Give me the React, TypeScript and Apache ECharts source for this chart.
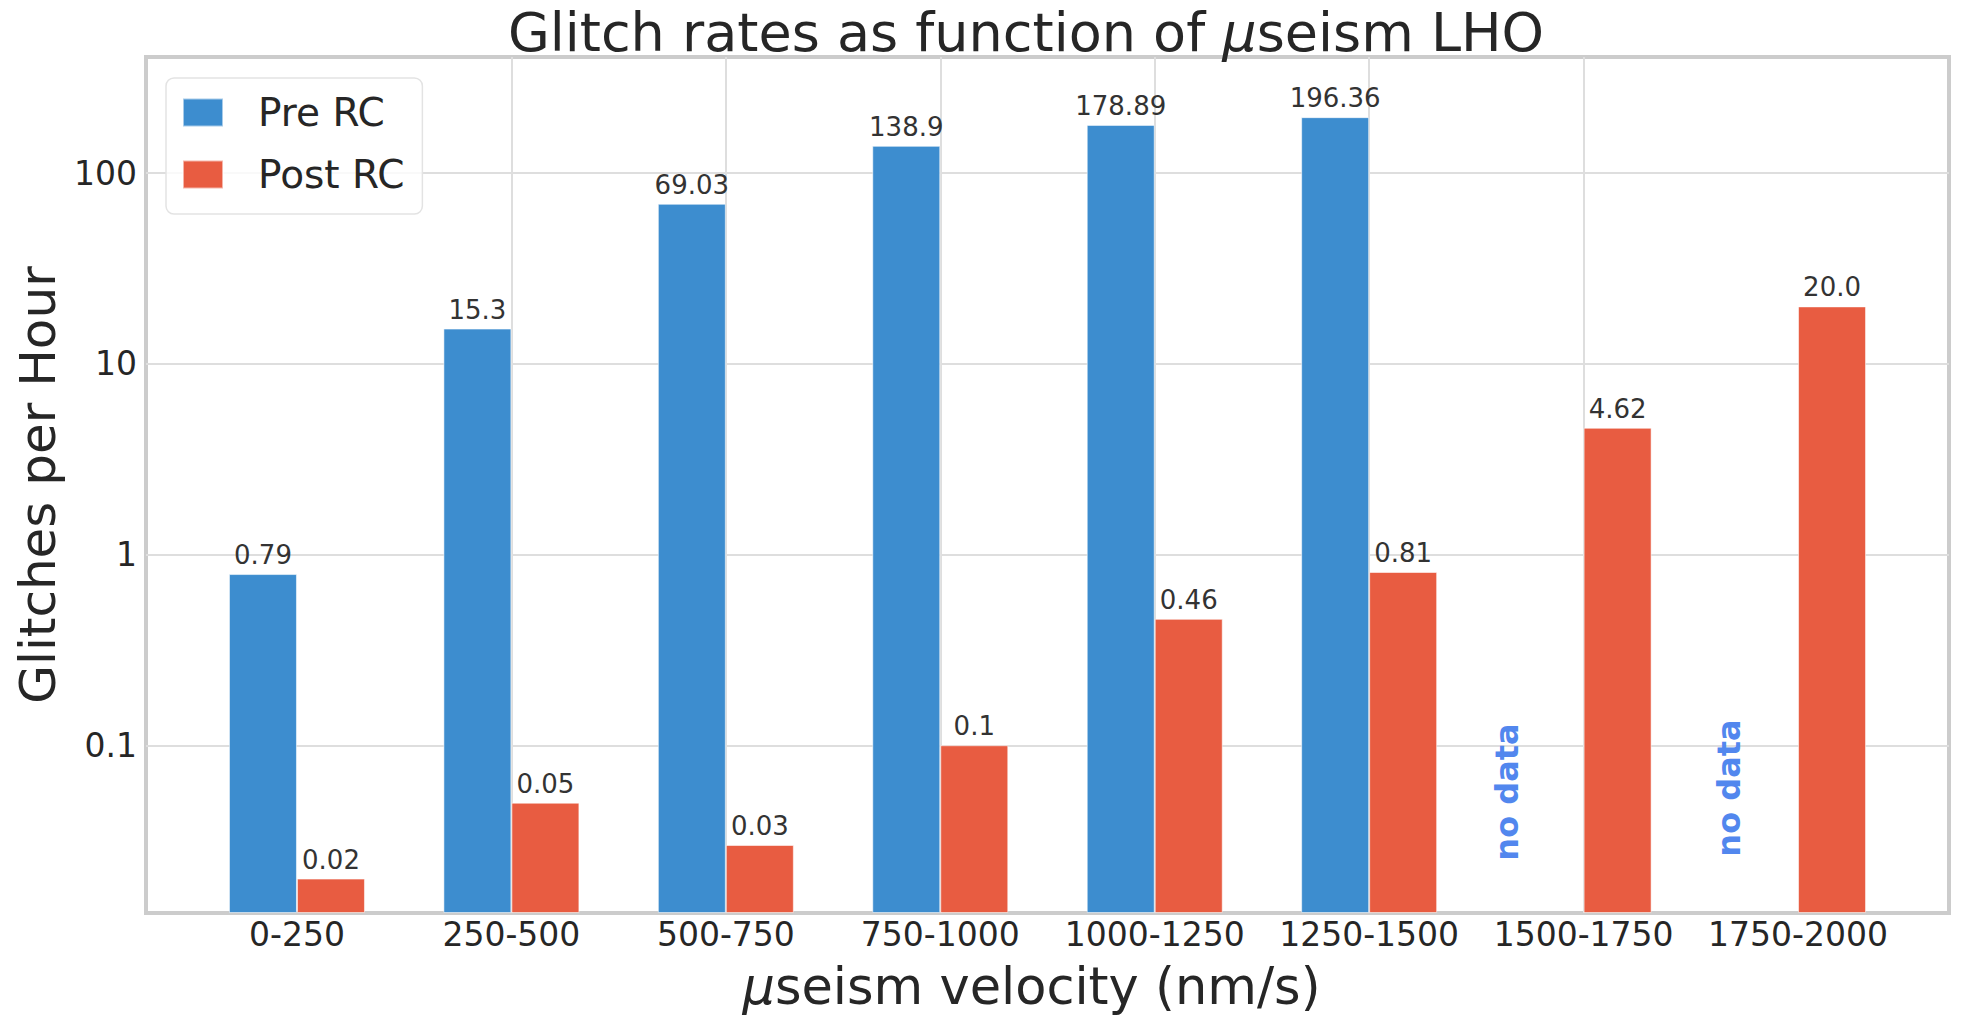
import { useEffect, useRef } from 'react';
import * as echarts from 'echarts';

const categories = ['0-250', '250-500', '500-750', '750-1000', '1000-1250', '1250-1500', '1500-1750', '1750-2000'];
const preRC: (number | null)[] = [0.79, 15.3, 69.03, 138.9, 178.89, 196.36, null, null];
const postRC: (number | null)[] = [0.02, 0.05, 0.03, 0.1, 0.46, 0.81, 4.62, 20.0];
const categoryIndex = categories.map((_, i) => i);
const noDataNotes = ['no data', 'no data'];

const FONT = 'DejaVu Sans';
const BLUE = '#3d8dcf';
const RED = '#e85c41';
const TEXT = '#262626';
const GRID = '#dedede';

const fmtValue = (v: number) => (Number.isInteger(v) ? v.toFixed(1) : String(v));
const toPairs = (arr: (number | null)[]) =>
  arr.map((v, i) => (v == null ? null : [i, v])).filter((d) => d !== null);

export default function App() {
  const ref = useRef<HTMLDivElement>(null);
  useEffect(() => {
    document.body.style.margin = '0';
    const chart = echarts.init(ref.current!, null, { renderer: 'svg' });
    const labelCfg = {
      show: true,
      position: 'top',
      distance: 6,
      fontFamily: FONT,
      fontSize: 26,
      color: '#333333',
      formatter: (p: any) => fmtValue(p.value[1]),
    };
    chart.setOption({
      animation: false,
      backgroundColor: '#ffffff',
      textStyle: { fontFamily: FONT },
      title: {
        text: 'Glitch rates as function of {i|μ}seism LHO',
        left: 1026,
        top: 5,
        textAlign: 'center',
        padding: 0,
        textStyle: {
          fontFamily: FONT,
          fontSize: 54,
          fontWeight: 'normal',
          color: TEXT,
          rich: { i: { fontFamily: FONT, fontSize: 54, fontStyle: 'italic', color: TEXT } },
        },
      },
      legend: {
        left: 166,
        top: 78,
        orient: 'vertical',
        data: ['Pre RC', 'Post RC'],
        icon: 'rect',
        itemWidth: 40,
        itemHeight: 28,
        itemGap: 23,
        padding: [15, 18, 20, 16],
        backgroundColor: 'rgba(255,255,255,0.8)',
        borderColor: '#e3e3e3',
        borderWidth: 1.5,
        borderRadius: 8,
        textStyle: { fontFamily: FONT, fontSize: 39, color: TEXT, padding: [0, 0, 0, 30] },
      },
      grid: { left: 146, right: 31, top: 57, bottom: 107, show: true, borderColor: '#cccccc', borderWidth: 4, backgroundColor: '#ffffff', outerBoundsMode: 'none', containLabel: false },
      xAxis: {
        type: 'value',
        min: -0.704,
        max: 7.704,
        axisLine: { show: false },
        axisTick: { show: false, customValues: categoryIndex },
        axisLabel: {
          customValues: categoryIndex,
          formatter: (v: number) => categories[Math.round(v)] ?? '',
          fontFamily: FONT,
          fontSize: 33,
          color: TEXT,
          margin: 5,
          showMinLabel: true,
          showMaxLabel: true,
        },
        splitLine: { show: true, showMinLine: false, showMaxLine: false, lineStyle: { color: GRID, width: 2 } },
        name: '{i|μ}seism velocity (nm/s)',
        nameLocation: 'middle',
        nameGap: 48,
        nameTextStyle: {
          fontFamily: FONT,
          fontSize: 51,
          color: TEXT,
          padding: [0, 32, 0, 0],
          rich: { i: { fontFamily: FONT, fontSize: 51, fontStyle: 'italic', color: TEXT } },
        },
      },
      yAxis: {
        type: 'log',
        logBase: 10,
        min: 0.0132,
        max: 406,
        startValue: 0.0132,
        axisLine: { show: false },
        axisTick: { show: false },
        minorTick: { show: false },
        minorSplitLine: { show: false },
        axisLabel: {
          fontFamily: FONT,
          fontSize: 33,
          color: TEXT,
          margin: 9,
          showMinLabel: false,
          showMaxLabel: false,
          formatter: (v: number) => String(+Number(v).toPrecision(6)),
        },
        splitLine: { show: true, showMinLine: false, showMaxLine: false, lineStyle: { color: GRID, width: 2 } },
        name: 'Glitches per Hour',
        nameLocation: 'middle',
        nameRotate: 90,
        nameGap: 79,
        nameTextStyle: { fontFamily: FONT, fontSize: 50, color: TEXT },
      },
      series: [
        {
          name: 'Pre RC',
          type: 'bar',
          data: toPairs(preRC),
          barWidth: 68,
          barGap: '0%',
          itemStyle: { color: BLUE, borderColor: 'rgba(255,255,255,0.55)', borderWidth: 1 },
          label: labelCfg,
        },
        {
          name: 'Post RC',
          type: 'bar',
          data: toPairs(postRC),
          barWidth: 68,
          barGap: '0%',
          itemStyle: { color: RED, borderColor: 'rgba(255,255,255,0.55)', borderWidth: 1 },
          label: labelCfg,
        },
      ],
      graphic: [
        { type: 'text', x: 1507, y: 792, rotation: Math.PI / 2, z: 50, style: { text: noDataNotes[0], font: `bold 32px "${FONT}"`, fill: '#5287ee', textAlign: 'center', textVerticalAlign: 'middle' } },
        { type: 'text', x: 1729, y: 788, rotation: Math.PI / 2, z: 50, style: { text: noDataNotes[1], font: `bold 32px "${FONT}"`, fill: '#5287ee', textAlign: 'center', textVerticalAlign: 'middle' } },
      ],
    });
    return () => chart.dispose();
  }, []);
  return <div ref={ref} style={{ position: 'absolute', left: 0, top: 0, width: 1980, height: 1020 }} />;
}
